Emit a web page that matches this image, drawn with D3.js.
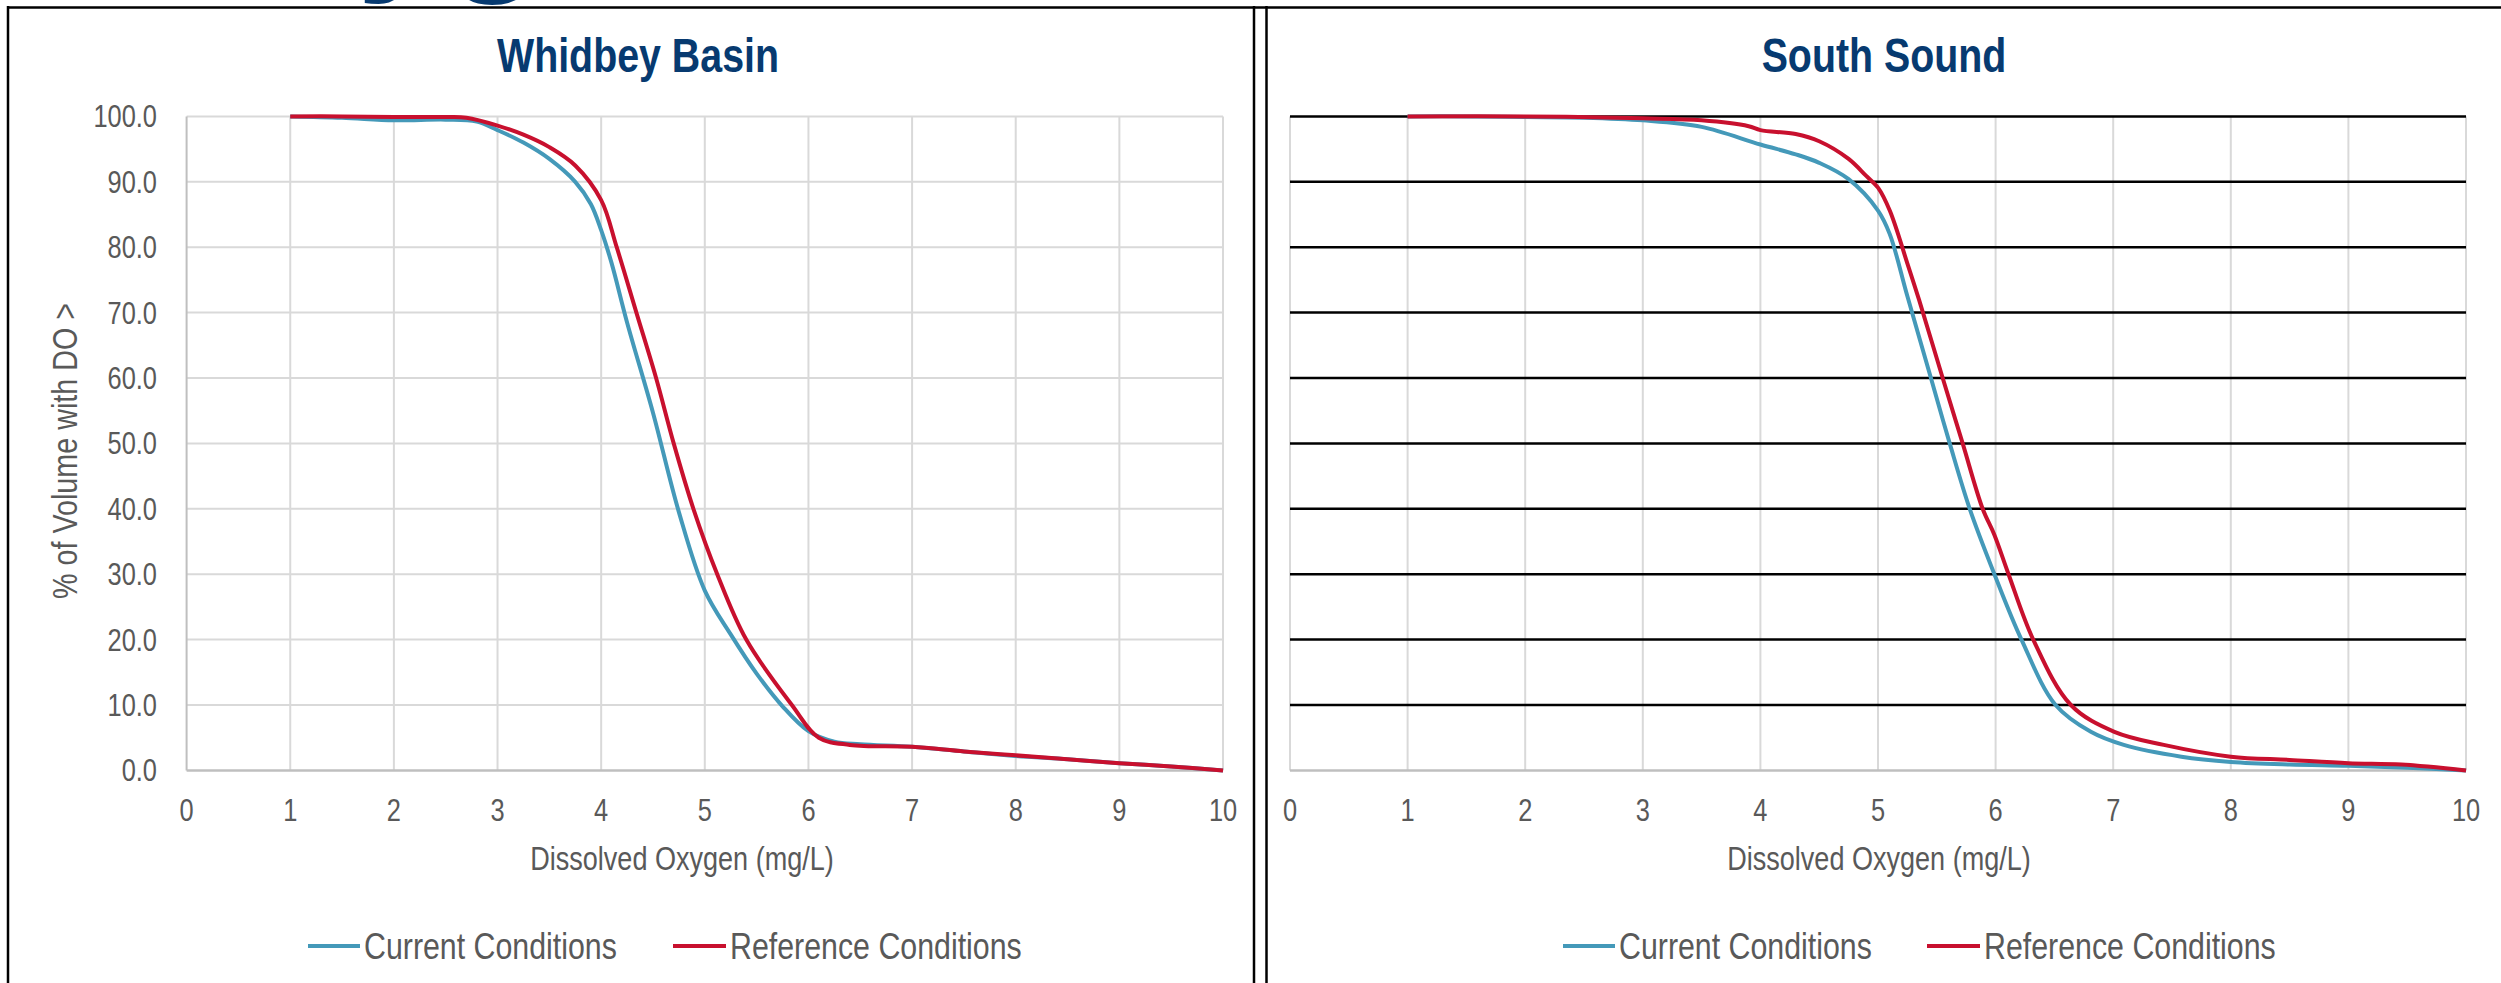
<!DOCTYPE html>
<html><head><meta charset="utf-8">
<script src="https://cdn.jsdelivr.net/npm/d3@7/dist/d3.min.js"></script>
<style>
body{margin:0;background:#fff}
svg{display:block}
text{font-family:"Liberation Sans",Arial,sans-serif}
</style>
</head><body>
<svg id="c" width="2501" height="983"></svg>
<script>
// ---------- data ----------
const xTicks = [0,1,2,3,4,5,6,7,8,9,10];
const yTicks = [0,10,20,30,40,50,60,70,80,90,100];
const yTickLabels = ["0.0","10.0","20.0","30.0","40.0","50.0","60.0","70.0","80.0","90.0","100.0"];
const seriesNames = ["Current Conditions","Reference Conditions"];
const panelTitles = ["Whidbey Basin","South Sound"];
const xAxisTitle = "Dissolved Oxygen (mg/L)";
const yAxisTitle = "% of Volume with DO >";

const whidbeyCurrentDO  = [1,1.5,2,2.5,2.8,3,3.25,3.5,3.75,3.9,4,4.1,4.25,4.5,4.75,5,5.25,5.5,5.75,6,6.25,6.5,7,7.5,8,8.5,9,9.5,10];
const whidbeyCurrentPct = [100,99.8,99.4,99.5,99.2,97.9,96.0,93.5,90.0,86.6,82.6,77.6,68.5,54.7,39.5,27.5,20.8,14.8,9.8,6.0,4.4,4.0,3.6,2.9,2.2,1.7,1.1,0.6,0];

const whidbeyRefDO  = [1,1.5,2,2.5,2.7,3,3.25,3.5,3.75,4,4.15,4.34,4.53,4.7,4.89,5.12,5.4,5.84,6.1,6.4,7,7.5,8,8.5,9,9.5,10];
const whidbeyRefPct = [100,100,99.9,99.9,99.8,98.6,97.2,95.3,92.5,87.2,80.0,70.0,60.0,50.0,40.0,30.0,20.0,10.0,5.0,3.9,3.6,2.9,2.3,1.7,1.1,0.6,0];

const southCurrentDO  = [1,1.5,2,2.5,3,3.5,4,4.3,4.5,4.75,5,5.1,5.25,5.45,5.61,5.78,5.99,6.22,6.51,6.81,7.09,7.58,8,8.5,9,9.5,10];
const southCurrentPct = [100,100,99.9,99.8,99.4,98.4,95.7,94.2,92.9,90.4,85.6,82.0,72.5,60,50,40,30,20,10,5.9,3.9,2.1,1.3,0.9,0.7,0.4,0];

const southRefDO  = [1,2,3,3.5,3.9,4,4.3,4.5,4.75,4.9,5,5.1,5.25,5.35,5.55,5.72,5.89,5.99,6.11,6.32,6.64,7.01,7.43,8,8.5,9,9.45,10];
const southRefPct = [100,100,99.7,99.4,98.5,97.9,97.3,96.2,93.5,90.9,89.1,85.6,77.5,71.9,60,50,40,36,30,20,10,5.9,3.9,2.1,1.6,1.1,0.9,0];

const colors = ["#4499B9","#C8102E"];

// ---------- layout ----------
const svg = d3.select("#c");
svg.append("rect").attr("width",2501).attr("height",983).attr("fill","#fff");
const NARROW = 0.82;

function ntext(g, x, y, str, size, anchor, color, bold, rot) {
  return g.append("text")
    .attr("transform", `translate(${x},${y})` + (rot ? ` rotate(${rot})` : "") + ` scale(${NARROW},1)`)
    .attr("text-anchor", anchor).attr("font-size", size)
    .attr("font-weight", bold ? "bold" : "normal")
    .attr("fill", color).text(str);
}

const panels = [
  {title:panelTitles[0], x0:186.6, x1:1223, titleX:638, axisTitleX:682, yLabels:true, hGridColor:"#D9D9D9", hGridW:2,
   series:[{x:whidbeyCurrentDO,y:whidbeyCurrentPct},{x:whidbeyRefDO,y:whidbeyRefPct}],
   legend:[{x1:308,x2:360,tx:364},{x1:673,x2:726,tx:730}]},
  {title:panelTitles[1], x0:1290, x1:2466, titleX:1884, axisTitleX:1879, yLabels:false, hGridColor:"#000", hGridW:2.5,
   series:[{x:southCurrentDO,y:southCurrentPct},{x:southRefDO,y:southRefPct}],
   legend:[{x1:1563,x2:1615,tx:1619},{x1:1927,x2:1980,tx:1984}]}
];
const yTop = 116.4, yBot = 770.4;

// partially visible large slide title above the frame
svg.append("text").attr("x",143).attr("y",-29)
  .attr("font-size",160).attr("font-weight","bold")
  .attr("fill","#073A70").text("Oxygen");

panels.forEach(p => {
  const x = d3.scaleLinear().domain([0,10]).range([p.x0,p.x1]);
  const y = d3.scaleLinear().domain([0,100]).range([yBot,yTop]);
  const g = svg.append("g");

  g.selectAll(".vg").data(xTicks.filter(d => p.yLabels ? d>0 : true)).enter().append("line")
    .attr("x1",d=>x(d)).attr("x2",d=>x(d)).attr("y1",yTop).attr("y2",yBot)
    .attr("stroke","#D9D9D9").attr("stroke-width",2);
  g.selectAll(".hg").data(yTicks.filter(d=>d>0)).enter().append("line")
    .attr("x1",p.x0).attr("x2",p.x1).attr("y1",d=>y(d)).attr("y2",d=>y(d))
    .attr("stroke",p.hGridColor).attr("stroke-width",p.hGridW);
  g.append("line").attr("x1",p.x0).attr("x2",p.x1).attr("y1",y(0)).attr("y2",y(0))
    .attr("stroke","#BFBFBF").attr("stroke-width",2.5);
  if (p.yLabels) {
    g.append("line").attr("x1",x(0)).attr("x2",x(0)).attr("y1",yTop).attr("y2",yBot)
      .attr("stroke","#BFBFBF").attr("stroke-width",2);
  }

  xTicks.forEach(d => ntext(g, x(d), 821, String(d), 31, "middle", "#595959"));
  if (p.yLabels) {
    yTicks.forEach((d,i) => ntext(g, 157, y(d)+11, yTickLabels[i], 31, "end", "#595959"));
    ntext(g, 77, 451, yAxisTitle, 35, "middle", "#595959", false, -90);
  }

  ntext(g, p.titleX, 72, p.title, 48, "middle", "#073A70", true);
  ntext(g, p.axisTitleX, 870, xAxisTitle, 33, "middle", "#595959");

  const line = d3.line().x(d=>x(d[0])).y(d=>y(d[1])).curve(d3.curveCatmullRom.alpha(0.5));
  p.series.forEach((s,i) => {
    const pts = s.x.map((v,j)=>[v,s.y[j]]);
    g.append("path").attr("d",line(pts)).attr("fill","none")
      .attr("stroke",colors[i]).attr("stroke-width",4).attr("stroke-linejoin","round");
  });

  p.legend.forEach((l,i) => {
    g.append("line").attr("x1",l.x1).attr("x2",l.x2).attr("y1",946).attr("y2",946)
      .attr("stroke",colors[i]).attr("stroke-width",4);
    ntext(g, l.tx, 959, seriesNames[i], 37, "start", "#595959");
  });
});

const frame = svg.append("g").attr("stroke","#000").attr("stroke-width",2.5);
frame.append("line").attr("x1",7).attr("x2",2501).attr("y1",7.5).attr("y2",7.5);
frame.append("line").attr("x1",8).attr("x2",8).attr("y1",6).attr("y2",983);
frame.append("line").attr("x1",1254).attr("x2",1254).attr("y1",6).attr("y2",983);
frame.append("line").attr("x1",1266.5).attr("x2",1266.5).attr("y1",6).attr("y2",983);
</script>
</body></html>
